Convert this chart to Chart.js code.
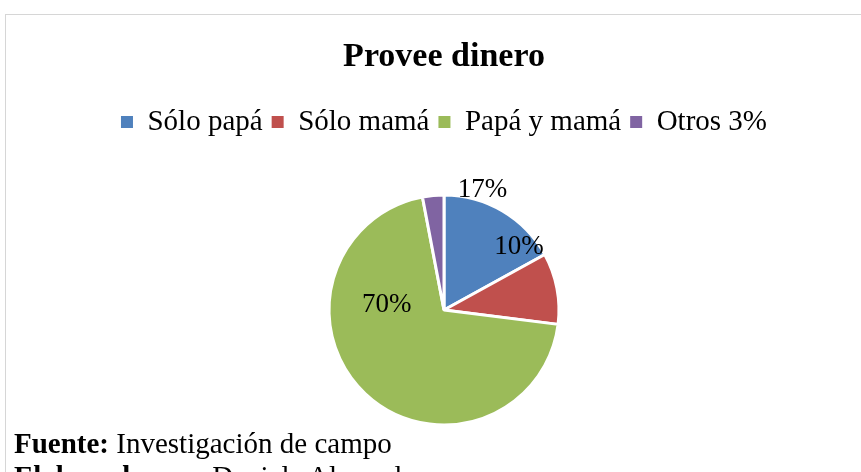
<!DOCTYPE html>
<html>
<head>
<meta charset="utf-8">
<script src="https://cdn.jsdelivr.net/npm/chart.js@4"></script>
<style>
  html, body { margin: 0; padding: 0; background: #fff; overflow: hidden; }
  body { width: 861px; height: 472px; position: relative; }
  #box {
    position: absolute; left: 5px; top: 14px;
    width: 876px; height: 470px;
    border-left: 1px solid #d6d6d6; border-top: 1px solid #d6d6d6;
  }
  #note {
    position: absolute; left: 14px; top: 427px;
    font: 29px/33px "Liberation Serif", "Times New Roman", serif;
    color: #000; white-space: nowrap;
  }
</style>
</head>
<body>
<div id="box"><canvas id="pie"></canvas></div>
<div id="note"><b>Fuente:</b> Investigación de campo<br><b>Elaborado por:</b> Daniela Alvarado</div>
<script>
const categories = ['Sólo papá', 'Sólo mamá', 'Papá y mamá', 'Otros 3%'];
const values = [17, 10, 70, 3];
const pieLabels = ['17%', '10%', '70%', ''];
const colors = ['#4F81BD', '#C0504D', '#9BBB59', '#8064A2'];

// where each percent label sits: t = fraction along the slice angle, f = fraction of radius
const labelSpots = [
  { t: 0.29, f: 1.1 },
  { t: -0.31, f: 0.85 },
  { t: 0.705, f: 0.5 },
  { t: 0.5, f: 0.7 }
];

const serif = '"Liberation Serif", "Times New Roman", serif';

const sliceLabels = {
  id: 'sliceLabels',
  afterDatasetsDraw(chart) {
    const ctx = chart.ctx;
    const arcs = chart.getDatasetMeta(0).data;
    ctx.save();
    ctx.font = '27px ' + serif;
    ctx.fillStyle = '#000';
    ctx.textAlign = 'center';
    ctx.textBaseline = 'middle';
    arcs.forEach((arc, i) => {
      if (!pieLabels[i]) return;
      const p = arc.getProps(['x', 'y', 'startAngle', 'endAngle', 'outerRadius'], true);
      const a = p.startAngle + labelSpots[i].t * (p.endAngle - p.startAngle);
      const r = p.outerRadius * labelSpots[i].f;
      ctx.fillText(pieLabels[i], p.x + Math.cos(a) * r, p.y + Math.sin(a) * r);
    });
    ctx.restore();
  }
};

const pieLegendLabels = Chart.overrides.pie.plugins.legend.labels.generateLabels;

new Chart(document.getElementById('pie'), {
  type: 'pie',
  data: {
    labels: categories,
    datasets: [{
      data: values,
      backgroundColor: colors,
      borderColor: '#fff',
      borderWidth: 3,
      radius: 115
    }]
  },
  options: {
    responsive: true,
    maintainAspectRatio: false,
    animation: false,
    layout: { padding: { top: 0, bottom: 11.5, left: 0, right: 0 } },
    plugins: {
      title: {
        display: true,
        text: 'Provee dinero',
        color: '#000',
        font: { family: serif, size: 34, weight: 'bold' },
        padding: { top: 21.6, bottom: 21 }
      },
      legend: {
        position: 'top',
        labels: {
          boxWidth: 12,
          boxHeight: 12,
          padding: 9,
          color: '#000',
          font: { family: serif, size: 29 },
          // no white outline on the legend squares
          generateLabels: chart => pieLegendLabels(chart).map(l => ({ ...l, lineWidth: 0 }))
        }
      },
      tooltip: { enabled: false }
    }
  },
  plugins: [sliceLabels]
});
</script>
</body>
</html>
